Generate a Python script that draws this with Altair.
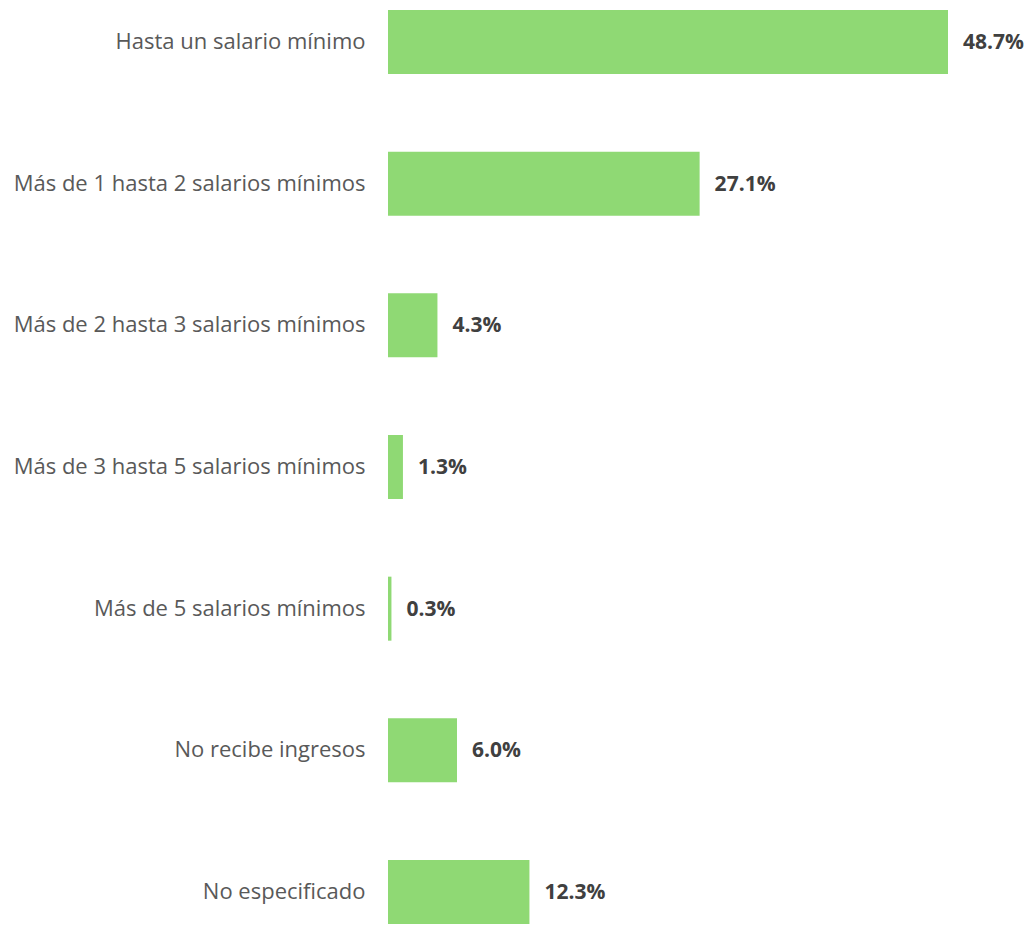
import altair as alt
import pandas as pd

categories = [
    "Hasta un salario mínimo",
    "Más de 1 hasta 2 salarios mínimos",
    "Más de 2 hasta 3 salarios mínimos",
    "Más de 3 hasta 5 salarios mínimos",
    "Más de 5 salarios mínimos",
    "No recibe ingresos",
    "No especificado",
]
values = [48.7, 27.1, 4.3, 1.3, 0.3, 6.0, 12.3]
value_labels = ["48.7%", "27.1%", "4.3%", "1.3%", "0.3%", "6.0%", "12.3%"]

df = pd.DataFrame({"cat": categories, "val": values, "lab": value_labels})

y_enc = alt.Y("cat:N", sort=categories,
              scale=alt.Scale(paddingInner=0.5482, paddingOuter=0),
              axis=alt.Axis(title=None, ticks=False, domain=False, labelPadding=23,
                            labelFont="Open Sans", labelFontSize=22, labelColor="#595959",
                            labelLimit=400))
x_enc = alt.X("val:Q", scale=alt.Scale(domain=[0, 48.7], nice=False),
              axis=None)

bars = alt.Chart(df).mark_bar(color="#8FD974").encode(x=x_enc, y=y_enc)
texts = alt.Chart(df).mark_text(align="left", baseline="middle", dx=15, dy=1,
                                font="Open Sans", fontWeight="bold",
                                fontSize=21, color="#404040").encode(
    x=x_enc, y=alt.Y("cat:N", sort=categories), text="lab:N")

chart = (bars + texts).properties(
    width=560, height=914,
    autosize=alt.AutoSizeParams(type="none"),
    padding={"left": 380, "top": 2, "right": 77, "bottom": 0},
).configure_view(stroke=None)

chart.save("out.html", embed_options={"renderer": "svg", "actions": False})
